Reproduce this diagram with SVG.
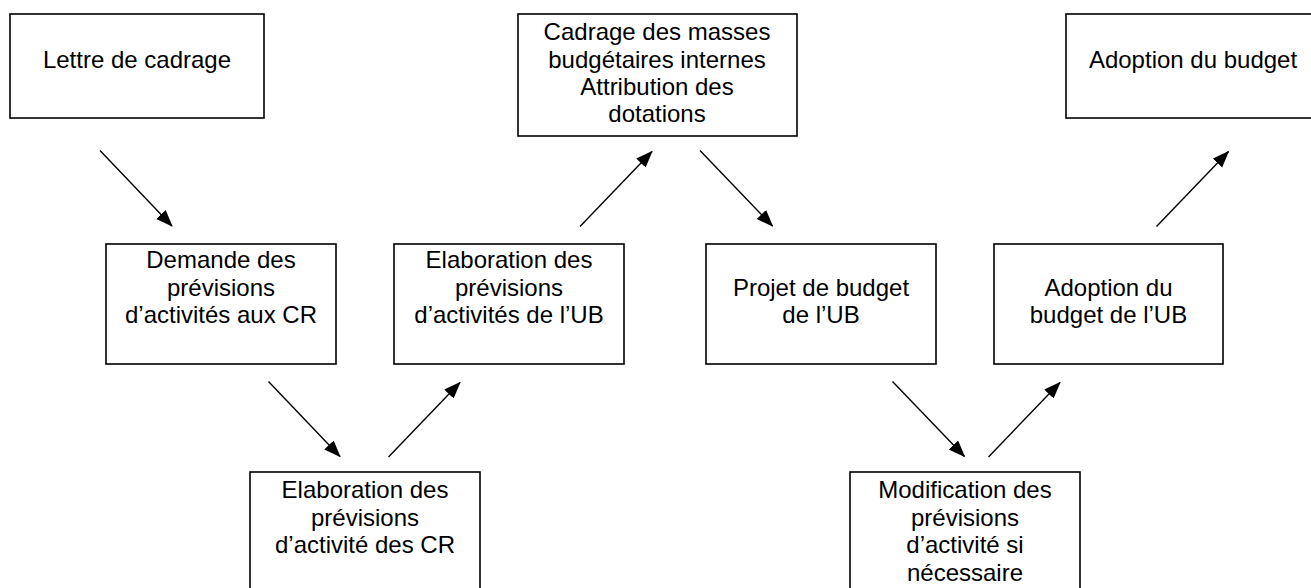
<svg xmlns="http://www.w3.org/2000/svg" width="1311" height="588" viewBox="0 0 1311 588">
<style>
.box{fill:#fff;stroke:#000;stroke-width:1.6}
.t{font-family:"Liberation Sans",Arial,sans-serif;font-size:24px;fill:#000;text-anchor:middle}
.c{stroke:#000;stroke-width:1.4;fill:none;marker-end:url(#ah)}
</style>
<defs>
<marker id="ah" markerUnits="userSpaceOnUse" markerWidth="18" markerHeight="14" refX="16" refY="6.5" orient="auto">
<path d="M0,0 L17,6.5 L0,13 z" fill="#000"/>
</marker>
</defs>
<rect width="1311" height="588" fill="#fff"/>
<g id="connectors">
<line class="c" x1="100" y1="150.5" x2="172" y2="226"/>
<line class="c" x1="268.5" y1="381.5" x2="340" y2="456.5"/>
<line class="c" x1="388.5" y1="457" x2="460" y2="382.5"/>
<line class="c" x1="580" y1="226.5" x2="652" y2="151.5"/>
<line class="c" x1="700" y1="150.5" x2="772.5" y2="226"/>
<line class="c" x1="892.5" y1="381.5" x2="964.5" y2="456.5"/>
<line class="c" x1="988.5" y1="457" x2="1060" y2="382.5"/>
<line class="c" x1="1156.5" y1="226.5" x2="1228.5" y2="151.5"/>
</g>
<g id="lettre">
<rect class="box" x="10" y="14" width="254" height="104"/>
<text class="t" x="137" y="68">Lettre de cadrage</text>
</g>
<g id="demande">
<rect class="box" x="106" y="244" width="230" height="120"/>
<text class="t" x="221" y="268">Demande des</text>
<text class="t" x="221" y="295.5">prévisions</text>
<text class="t" x="221" y="323">d’activités aux CR</text>
</g>
<g id="elab-cr">
<rect class="box" x="250" y="472" width="230" height="130"/>
<text class="t" x="365" y="498">Elaboration des</text>
<text class="t" x="365" y="525.5">prévisions</text>
<text class="t" x="365" y="553">d’activité des CR</text>
</g>
<g id="elab-ub">
<rect class="box" x="394" y="244" width="230" height="120"/>
<text class="t" x="509" y="268">Elaboration des</text>
<text class="t" x="509" y="295.5">prévisions</text>
<text class="t" x="509" y="323">d’activités de l’UB</text>
</g>
<g id="cadrage">
<rect class="box" x="518" y="14" width="279" height="122"/>
<text class="t" x="657" y="40">Cadrage des masses</text>
<text class="t" x="657" y="67.5">budgétaires internes</text>
<text class="t" x="657" y="95">Attribution des</text>
<text class="t" x="657" y="122">dotations</text>
</g>
<g id="projet">
<rect class="box" x="706" y="244" width="230" height="120"/>
<text class="t" x="821" y="295.5">Projet de budget</text>
<text class="t" x="821" y="323">de l’UB</text>
</g>
<g id="modif">
<rect class="box" x="850" y="472" width="230" height="130"/>
<text class="t" x="965" y="498">Modification des</text>
<text class="t" x="965" y="525.5">prévisions</text>
<text class="t" x="965" y="553">d’activité si</text>
<text class="t" x="965" y="580.5">nécessaire</text>
</g>
<g id="adoption-ub">
<rect class="box" x="994" y="244" width="229" height="120"/>
<text class="t" x="1108.5" y="295.5">Adoption du</text>
<text class="t" x="1108.5" y="323">budget de l’UB</text>
</g>
<g id="adoption">
<rect class="box" x="1066" y="14" width="254" height="104"/>
<text class="t" x="1193" y="68">Adoption du budget</text>
</g>
</svg>
